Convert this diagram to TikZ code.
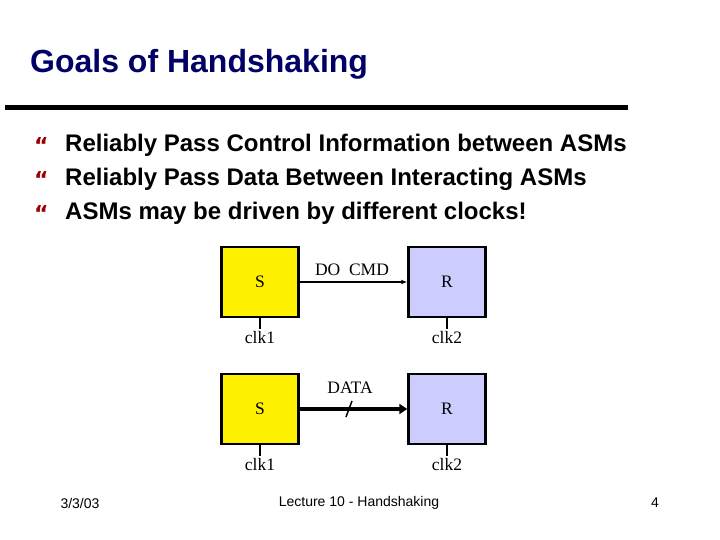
\documentclass[tikz,border=0pt]{standalone}
\usepackage{fontspec}
\setmainfont{Liberation Serif}
\newfontfamily\arial{Liberation Sans}
\newfontfamily\djvfont{DejaVu Sans}
\usetikzlibrary{arrows.meta}
\definecolor{navy}{RGB}{0,0,102}
\definecolor{bul}{RGB}{153,0,0}
\definecolor{lav}{RGB}{204,204,255}
\tikzset{
 blk/.style={draw=black,line width=2.5pt,minimum width=77pt,minimum height=70pt,font=\fontsize{17.5}{20}\selectfont},
 lbl/.style={font=\fontsize{17.5}{20}\selectfont},
 btxt/.style={anchor=west,inner sep=0pt,font=\arial\bfseries\fontsize{24}{28}\selectfont},
 bmark/.style={anchor=west,inner sep=0pt,text=bul,font=\djvfont\bfseries\fontsize{22}{24}\selectfont},
 foot/.style={font=\arial\fontsize{14}{16}\selectfont},
 tick/.style={line width=2.5pt}
}
\begin{document}
\begin{tikzpicture}[x=1pt,y=-1pt]
\useasboundingbox (0,0) rectangle (720,540);
\node[anchor=west,inner sep=0pt,text=navy,font=\arial\bfseries\fontsize{32}{36}\selectfont] (title) at (30,64) {Goals of Handshaking};
\draw[line width=5pt] (5,108) -- (628,108);
\foreach \y/\t [count=\i] in {145/Reliably Pass Control Information between ASMs,179/Reliably Pass Data Between Interacting ASMs,213/ASMs may be driven by different clocks!}{
 \node[bmark] (m\i) at (34,\y) {“};
 \node[btxt] (b\i) at (65,\y) {\t};
}
\node[blk,fill=yellow] (s1) at (260,282) {S};
\node[blk,fill=lav] (r1) at (447,282) {R};
\node[blk,fill=yellow] (s2) at (260,409) {S};
\node[blk,fill=lav] (r2) at (447,409) {R};
\draw[line width=1.5pt,-{Latex[length=6pt,width=5pt]}] (s1.east) -- (r1.west);
\node[lbl] (dc) at (352,270) {DO\ \ CMD};
\draw[line width=4pt,-{Triangle[length=8pt,width=10pt]}] (s2.east) -- (r2.west);
\coordinate (sl) at (349,409);
\draw[line width=1.5pt] ([shift={(-3,8)}]sl) -- ([shift={(3,-8)}]sl);
\node[lbl] (dt) at (350,388) {DATA};
\foreach \b/\l in {s1/clk1,r1/clk2,s2/clk1,r2/clk2}{
 \draw[tick] (\b.south) -- ++(0,11) node[lbl,below,inner sep=1pt] (c\b) {\l};
}
\node[foot] (f1) at (80,503) {3/3/03};
\node[foot] (f2) at (359,503) {Lecture 10 - Handshaking};
\node[foot] (f3) at (655,503) {4};
\end{tikzpicture}
\end{document}
